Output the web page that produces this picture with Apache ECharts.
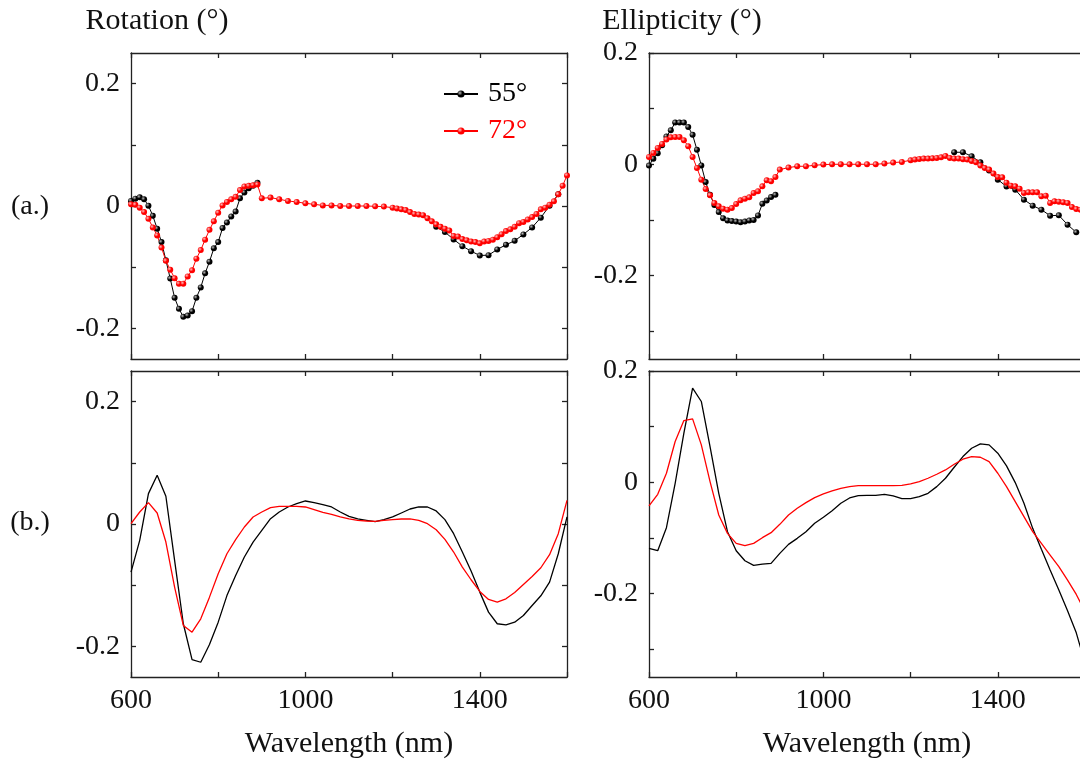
<!DOCTYPE html>
<html>
<head>
<meta charset="utf-8">
<script src="https://cdn.jsdelivr.net/npm/echarts@6/dist/echarts.min.js"></script>
<style>
html, body { margin: 0; padding: 0; background: #fff; overflow: hidden; }
#chart { width: 1090px; height: 767px; }
</style>
</head>
<body>
<div id="chart"></div>
<script>
// (a.) measured points -- 55° has no data between 890 and 1300 nm (null = gap)
const wlA55 = [600, 610, 620, 630, 640, 650, 660, 670, 680, 690, 700, 710, 720, 730, 740, 750, 760, 770, 780, 790,
  800, 810, 820, 830, 840, 850, 860, 870, 880, 890, 1100,
  1300, 1320, 1340, 1360, 1380, 1400, 1420, 1440, 1460, 1480, 1500, 1520, 1540, 1560, 1580]
const rotA55 = [0.0082, 0.012, 0.0142, 0.011, 0.0005, -0.016, -0.037, -0.059, -0.0885, -0.1186, -0.150, -0.168, -0.181, -0.179, -0.172, -0.150, -0.133, -0.110, -0.091, -0.069,
  -0.059, -0.036, -0.027, -0.017, -0.009, 0.0126, 0.022, 0.029, 0.033, 0.038, null,
  -0.034, -0.0426, -0.0546, -0.0656, -0.0738, -0.0809, -0.0803, -0.071, -0.0634, -0.0568, -0.0464, -0.035, -0.019, 0.0005, 0.019]
const ellA55 = [-0.0024, 0.010, 0.020, 0.034, 0.050, 0.061, 0.075, 0.075, 0.075, 0.067, 0.053, 0.026, -0.002, -0.032, -0.055, -0.073, -0.086, -0.097, -0.101, -0.102,
  -0.103, -0.104, -0.103, -0.101, -0.100, -0.092, -0.071, -0.065, -0.059, -0.055, null,
  0.0216, 0.0216, 0.0144, 0.0036, -0.011, -0.0276, -0.040, -0.0456, -0.0636, -0.0744, -0.0816, -0.0924, -0.0918, -0.1086, -0.1224]

const wlA72 = [600, 610, 620, 630, 640, 650, 660, 670, 680, 690, 700, 710, 720, 730, 740, 750, 760, 770, 780, 790,
  800, 810, 820, 830, 840, 850, 860, 870, 880, 890, 900,
  920, 940, 960, 980, 1000, 1020, 1040, 1060, 1080, 1100, 1120, 1140, 1160, 1180, 1200,
  1210, 1220, 1230, 1240, 1250, 1260, 1270, 1280, 1290, 1300, 1310, 1320, 1330, 1340, 1350, 1360, 1370, 1380, 1390, 1400,
  1410, 1420, 1430, 1440, 1450, 1460, 1470, 1480, 1490, 1500, 1510, 1520, 1530, 1540, 1550, 1560, 1570, 1580, 1590, 1600]
const rotA72 = [0.0027, 0.002, -0.0027, -0.0098, -0.021, -0.035, -0.048, -0.068, -0.0896, -0.104, -0.118, -0.127, -0.127, -0.115, -0.105, -0.086, -0.072, -0.055, -0.039, -0.025,
  -0.011, 0.001, 0.0066, 0.011, 0.015, 0.026, 0.032, 0.033, 0.034, 0.035, 0.0126,
  0.0137, 0.011, 0.0082, 0.0066, 0.0044, 0.0027, 0.001, 0.001, 0, 0, 0, 0, -0.0005, -0.001, -0.0027,
  -0.004, -0.0055, -0.0066, -0.010, -0.013, -0.014, -0.015, -0.020, -0.025, -0.030, -0.034, -0.037, -0.040, -0.049, -0.050, -0.054, -0.056, -0.058, -0.059, -0.061,
  -0.058, -0.057, -0.055, -0.051, -0.046, -0.041, -0.038, -0.034, -0.028, -0.026, -0.022, -0.018, -0.013, -0.0055, -0.0027, 0.002, 0.0077, 0.019, 0.033, 0.050]
const ellA72 = [0.0132, 0.0204, 0.0294, 0.0366, 0.0444, 0.0486, 0.0492, 0.0492, 0.0432, 0.0324, 0.0132, -0.0066, -0.0276, -0.0444, -0.0558, -0.0696, -0.0756, -0.0798, -0.0816, -0.0786,
  -0.0714, -0.0648, -0.0618, -0.0594, -0.0516, -0.0486, -0.0396, -0.0288, -0.0306, -0.0228, -0.0096,
  -0.006, -0.0036, -0.0036, -0.0018, -0.0006, 0, 0, 0, 0, 0, 0, 0.0012, 0.003, 0.0042, 0.0072,
  0.0084, 0.0096, 0.0102, 0.0102, 0.0108, 0.0114, 0.0126, 0.015, 0.0114, 0.0102, 0.0102, 0.009, 0.0084, 0.006, 0.0036, -0.0024, -0.0066, -0.0096, -0.0168, -0.0228,
  -0.0234, -0.033, -0.0384, -0.0396, -0.0438, -0.0516, -0.0504, -0.0504, -0.0504, -0.0576, -0.0564, -0.0696, -0.0666, -0.0672, -0.0684, -0.0696, -0.0768, -0.0804, -0.0816, -0.082]

// (b.) calculated curves
const wlB = [600, 620, 640, 660, 680, 700, 720, 740, 760, 780, 800, 820, 840, 860, 880, 900, 920, 940, 960, 980,
  1000, 1020, 1040, 1060, 1080, 1100, 1120, 1140, 1160, 1180, 1200, 1220, 1240, 1260, 1280, 1300, 1320, 1340, 1360, 1380,
  1400, 1420, 1440, 1460, 1480, 1500, 1520, 1540, 1560, 1580, 1600]
const rotB55 = [-0.0786, -0.0267, 0.0496, 0.0797, 0.0453, -0.0595, -0.163, -0.2215, -0.2259, -0.197,
  -0.1604, -0.117, -0.084, -0.054, -0.0295, -0.0104, 0.0087, 0.0196, 0.0278, 0.0333,
  0.0376, 0.0349, 0.0316, 0.0278, 0.0196, 0.0125, 0.0082, 0.006, 0.0038, 0.0071,
  0.0115, 0.018, 0.0245, 0.0278, 0.0278, 0.0213, 0.0071, -0.0158, -0.0458, -0.0769,
  -0.1113, -0.144, -0.163, -0.1648, -0.1604, -0.1495, -0.1331, -0.1173, -0.0949, -0.0486, 0.0115]
const rotB72 = [0.0005, 0.0196, 0.0349, 0.018, -0.0295, -0.1031, -0.1658, -0.1768, -0.1549, -0.1195,
  -0.0813, -0.0486, -0.0256, -0.0049, 0.0115, 0.0196, 0.0267, 0.0289, 0.0289, 0.0289,
  0.0278, 0.0235, 0.0191, 0.0158, 0.0115, 0.0082, 0.006, 0.0049, 0.0044, 0.006,
  0.0071, 0.0082, 0.0082, 0.006, 0.0005, -0.0093, -0.0251, -0.0458, -0.0704, -0.0911,
  -0.1102, -0.1233, -0.1277, -0.1222, -0.1118, -0.0987, -0.0857, -0.0715, -0.0502, -0.0158, 0.0387]
const ellB55 = [-0.1188, -0.123, -0.0816, -0.0018, 0.0882, 0.1692, 0.1452, 0.0642, -0.0198, -0.0888,
  -0.123, -0.141, -0.1494, -0.147, -0.1458, -0.1278, -0.1116, -0.1008, -0.0888, -0.0738,
  -0.063, -0.051, -0.0378, -0.0282, -0.024, -0.0234, -0.0234, -0.0216, -0.0246, -0.0294,
  -0.0294, -0.0258, -0.0198, -0.0078, 0.0072, 0.027, 0.0462, 0.0612, 0.069, 0.0672,
  0.0522, 0.0294, -0.0006, -0.0378, -0.0828, -0.1206, -0.1578, -0.1938, -0.231, -0.2706, -0.325]
const ellB72 = [-0.0426, -0.0216, 0.0162, 0.0732, 0.111, 0.114, 0.0672, 0.0012, -0.0588, -0.0918,
  -0.1098, -0.114, -0.1098, -0.0996, -0.0906, -0.0756, -0.0588, -0.0468, -0.0366, -0.0276,
  -0.021, -0.0156, -0.0108, -0.0078, -0.006, -0.006, -0.006, -0.006, -0.006, -0.0054,
  -0.003, 0.0012, 0.0072, 0.0144, 0.0222, 0.0324, 0.0414, 0.0462, 0.045, 0.0372,
  0.0162, -0.0078, -0.0348, -0.0618, -0.0888, -0.1098, -0.1308, -0.1518, -0.1758, -0.2016, -0.232]

const xTicks = [600, 800, 1000, 1200, 1400, 1600]
const xLabels = [600, 1000, 1400]
const rotTicks = [-0.2, -0.1, 0, 0.1, 0.2]
const ellTicks = [-0.3, -0.2, -0.1, 0, 0.1, 0.2]
const yLabels = [-0.2, 0, 0.2]

const FONT = '"Liberation Serif", "Times New Roman", serif'
const BLACK = '#000000'
const RED = '#ff0000'
const AXIS = { color: '#222', width: 1.3 }

const chart = echarts.init(document.getElementById('chart'))

const grids = [
  { left: 131, top: 53, width: 436, height: 306 },   // (a.) rotation
  { left: 649, top: 53, width: 436, height: 306 },   // (a.) ellipticity
  { left: 131, top: 371, width: 436, height: 306 },  // (b.) rotation
  { left: 649, top: 371, width: 436, height: 306 },  // (b.) ellipticity
]

function xPair(gi, labelled) {
  const base = {
    type: 'value', gridIndex: gi, min: 600, max: 1600,
    axisLine: { show: true, onZero: false, lineStyle: AXIS },
    axisTick: { show: true, inside: true, length: 5, lineStyle: AXIS, customValues: xTicks },
    splitLine: { show: false },
  }
  return [
    {
      ...base, position: 'bottom',
      axisLabel: { show: labelled, customValues: xLabels, margin: 10, color: '#111', fontFamily: FONT, fontSize: 28, formatter: v => String(v) },
      name: labelled ? 'Wavelength (nm)' : '', nameLocation: 'middle', nameGap: 52,
      nameTextStyle: { color: '#111', fontFamily: FONT, fontSize: 30 },
    },
    { ...base, position: 'top', axisLabel: { show: false } },
  ]
}

function yPair(gi, min, max, ticks) {
  const base = {
    type: 'value', gridIndex: gi, min, max,
    axisLine: { show: true, onZero: false, lineStyle: AXIS },
    axisTick: { show: true, inside: true, length: 5, lineStyle: AXIS, customValues: ticks },
    splitLine: { show: false },
  }
  return [
    {
      ...base, position: 'left',
      axisLabel: { show: true, customValues: yLabels, margin: 11, color: '#111', fontFamily: FONT, fontSize: 28, formatter: v => String(v) },
    },
    { ...base, position: 'right', axisLabel: { show: false } },
  ]
}

function pairs(xs, ys) {
  return xs.map((x, i) => [x, ys[i] == null ? '-' : ys[i]])
}

function ball(hi, base) {
  return new echarts.graphic.RadialGradient(0.35, 0.35, 0.65, [
    { offset: 0, color: hi },
    { offset: 0.55, color: base },
    { offset: 1, color: base },
  ])
}

function measured(name, gi, xs, ys, color, hi) {
  return {
    name, type: 'line', xAxisIndex: gi * 2, yAxisIndex: gi * 2,
    data: pairs(xs, ys), connectNulls: false,
    symbol: 'circle', symbolSize: 6, showSymbol: true,
    lineStyle: { color, width: 1 },
    itemStyle: { color: ball(hi, color), borderWidth: 0 },
    emphasis: { disabled: true }, animation: false,
  }
}

function calc(name, gi, ys, color) {
  return {
    name, type: 'line', xAxisIndex: gi * 2, yAxisIndex: gi * 2,
    data: pairs(wlB, ys), showSymbol: false, symbol: 'none',
    lineStyle: { color, width: 1.3 }, itemStyle: { color },
    emphasis: { disabled: true }, animation: false,
  }
}

function label(text, x, y, size, align) {
  return {
    type: 'text', x, y,
    style: { text, fill: '#111', font: size + 'px ' + FONT, textAlign: align || 'center', textVerticalAlign: 'middle' },
  }
}

chart.setOption({
  animation: false,
  grid: grids,
  xAxis: [...xPair(0, false), ...xPair(1, false), ...xPair(2, true), ...xPair(3, true)],
  yAxis: [...yPair(0, -0.25, 0.25, rotTicks), ...yPair(1, -0.35, 0.2, ellTicks),
          ...yPair(2, -0.25, 0.25, rotTicks), ...yPair(3, -0.35, 0.2, ellTicks)],
  legend: {
    orient: 'vertical', left: 443, top: 80, padding: 0,
    itemWidth: 34, itemHeight: 9, itemGap: 9,
    textStyle: { fontFamily: FONT, fontSize: 28, padding: [0, 0, 0, 5] },
    data: [
      { name: '55°', textStyle: { color: BLACK } },
      { name: '72°', textStyle: { color: RED } },
    ],
  },
  series: [
    measured('55°', 0, wlA55, rotA55, BLACK, '#bbbbbb'),
    measured('72°', 0, wlA72, rotA72, RED, '#ffc0c0'),
    measured('55°', 1, wlA55, ellA55, BLACK, '#bbbbbb'),
    measured('72°', 1, wlA72, ellA72, RED, '#ffc0c0'),
    calc('55°', 2, rotB55, BLACK),
    calc('72°', 2, rotB72, RED),
    calc('55°', 3, ellB55, BLACK),
    calc('72°', 3, ellB72, RED),
  ],
  graphic: [
    label('Rotation (°)', 157, 21, 30),
    label('Ellipticity (°)', 682, 21, 30),
    label('(a.)', 30, 207, 28),
    label('(b.)', 30, 523, 28),
  ],
})
</script>
</body>
</html>
